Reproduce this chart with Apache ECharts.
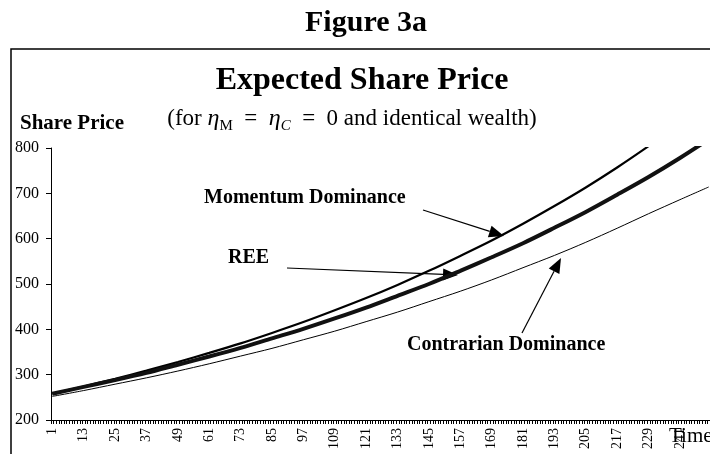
<!DOCTYPE html>
<html>
<head>
<meta charset="utf-8">
<title>Figure 3a</title>
<script src="https://cdn.jsdelivr.net/npm/echarts@6/dist/echarts.min.js"></script>
<style>
    html, body { margin: 0; padding: 0; background: #fff; overflow: hidden; }
    #sharechart { width: 710px; height: 454px; }
</style>
</head>
<body>
<div id="sharechart"></div>
<script>
// periods on the x axis run 1..252 (right end is cut off in the figure)
var lastPeriod = 252;

var times = [1, 13, 25, 37, 49, 61, 73, 85, 97, 109, 121, 133, 145, 157, 169, 181, 193, 205, 217, 229, 241, 252];
var momentum = [258, 274, 291, 309, 328, 348, 369, 392, 416, 442, 469, 498, 529, 562, 596, 633, 672, 713, 757, 804, 853, 902];
var ree = [258, 273, 288, 304, 322, 340, 359, 380, 401, 424, 448, 474, 500, 529, 559, 590, 624, 659, 697, 736, 778, 819];
var contrarian = [252, 265, 279, 293, 308, 324, 341, 358, 377, 396, 417, 438, 461, 484, 509, 536, 563, 592, 623, 655, 686, 714];

var yTicks = { min: 200, max: 800, step: 100 };

var serif = "'Liberation Serif', 'Times New Roman', serif";

function getChart(id) {
    var dom = document.getElementById(id);
    return echarts.init(dom);
}

function pairs(values) {
    var out = [];
    for (var i = 0; i < times.length; i++) {
        out.push([times[i] - 1, values[i]]);
    }
    return out;
}

function label(text, x, y, size, opts) {
    opts = opts || {};
    return {
        type: 'text',
        x: x,
        y: y,
        silent: true,
        style: {
            text: text,
            font: (opts.bold ? 'bold ' : '') + size + 'px ' + serif,
            fill: '#000',
            textAlign: opts.align || 'left',
            textVerticalAlign: 'middle'
        }
    };
}

// annotation arrow: thin line with a filled triangle head at (x2, y2)
function arrow(x1, y1, x2, y2) {
    var dx = x2 - x1, dy = y2 - y1;
    var len = Math.sqrt(dx * dx + dy * dy);
    var ux = dx / len, uy = dy / len;
    var headLen = 15, headHalf = 6;
    var bx = x2 - ux * headLen, by = y2 - uy * headLen;
    return [{
        type: 'line',
        silent: true,
        shape: { x1: x1, y1: y1, x2: bx, y2: by },
        style: { stroke: '#000', lineWidth: 1.2 }
    }, {
        type: 'polygon',
        silent: true,
        shape: {
            points: [
                [x2, y2],
                [bx - uy * headHalf, by + ux * headHalf],
                [bx + uy * headHalf, by - ux * headHalf]
            ]
        },
        style: { fill: '#000' }
    }];
}

(function () {
    "use strict";

    var sharechart = getChart('sharechart');

    var categories = [];
    for (var t = 1; t <= lastPeriod; t++) {
        categories.push(String(t));
    }

    var graphics = [
        {
            type: 'rect',
            silent: true,
            shape: { x: 11, y: 49, width: 800, height: 500 },
            style: { fill: 'none', stroke: '#000', lineWidth: 1.5 }
        },
        label('Figure 3a', 366, 23, 30, { bold: true, align: 'center' }),
        label('Expected Share Price', 362, 81, 32, { bold: true, align: 'center' }),
        {
            type: 'text',
            x: 352,
            y: 119,
            silent: true,
            style: {
                text: '(for {i|η}{s|M}  =  {i|η}{si|C}  =  0 and identical wealth)',
                font: '23px ' + serif,
                fill: '#000',
                textAlign: 'center',
                textVerticalAlign: 'middle',
                rich: {
                    i: { fontFamily: serif, fontStyle: 'italic', fontSize: 24, lineHeight: 30 },
                    s: { fontFamily: serif, fontSize: 15, verticalAlign: 'bottom', lineHeight: 30 },
                    si: { fontFamily: serif, fontStyle: 'italic', fontSize: 15, verticalAlign: 'bottom', lineHeight: 30 }
                }
            }
        },
        label('Share Price', 20, 124, 21, { bold: true }),
        label('Momentum Dominance', 204, 198, 20, { bold: true }),
        label('REE', 228, 258, 20, { bold: true }),
        label('Contrarian Dominance', 407, 345, 20, { bold: true }),
        label('Time', 669, 436, 21)
    ];
    graphics = graphics
        .concat(arrow(423, 210, 504, 236))
        .concat(arrow(287, 268, 458, 275))
        .concat(arrow(522, 333, 561, 258));

    var option = {
        animation: false,
        backgroundColor: '#fff',
        grid: {
            left: 51,
            top: 148,
            width: 670,
            height: 272
        },
        xAxis: {
            type: 'category',
            data: categories,
            boundaryGap: true,
            axisLine: { show: true, lineStyle: { color: '#000', width: 1 } },
            axisTick: {
                show: true,
                interval: 0,
                length: 4,
                lineStyle: { color: '#000', width: 1 }
            },
            axisLabel: {
                interval: 11,
                rotate: 90,
                margin: 8,
                color: '#000',
                fontFamily: serif,
                fontSize: 14
            },
            splitLine: { show: false }
        },
        yAxis: {
            type: 'value',
            min: yTicks.min,
            max: yTicks.max,
            interval: yTicks.step,
            axisLine: { show: true, lineStyle: { color: '#000', width: 1 } },
            axisTick: { show: true, length: 5, lineStyle: { color: '#000' } },
            axisLabel: {
                margin: 12,
                color: '#000',
                fontFamily: serif,
                fontSize: 16
            },
            splitLine: { show: false }
        },
        series: [{
            name: 'Momentum Dominance',
            type: 'line',
            smooth: 0.3,
            symbol: 'none',
            lineStyle: { color: '#000', width: 2.2 },
            data: pairs(momentum)
        }, {
            name: 'REE',
            type: 'line',
            smooth: 0.3,
            symbol: 'none',
            lineStyle: { color: '#111', width: 4 },
            data: pairs(ree)
        }, {
            name: 'Contrarian Dominance',
            type: 'line',
            smooth: 0.3,
            symbol: 'none',
            lineStyle: { color: '#000', width: 1 },
            data: pairs(contrarian)
        }],
        graphic: graphics
    };

    if (option && typeof option === "object") {
        sharechart.setOption(option, true);
    }
    window.addEventListener('resize', function () {
        sharechart.resize();
    });
})();
</script>
</body>
</html>
